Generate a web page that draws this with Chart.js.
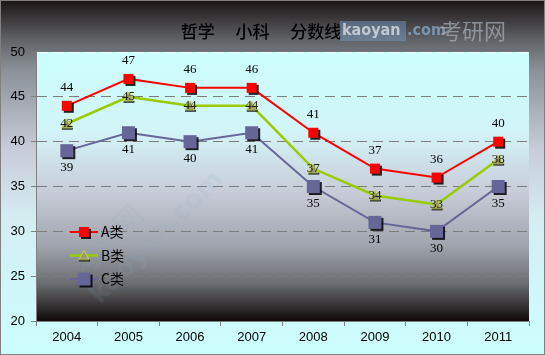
<!DOCTYPE html>
<html>
<head>
<meta charset="utf-8">
<script src="https://cdn.jsdelivr.net/npm/chart.js@4/dist/chart.umd.min.js"></script>
<style>
  html, body { margin: 0; padding: 0; background: #ffffff; }
  #wrap { position: relative; width: 545px; height: 355px; }
</style>
</head>
<body>
<div id="wrap"><canvas id="chart" width="545" height="355"></canvas></div>
<script>
// chart values
const years = ['2004', '2005', '2006', '2007', '2008', '2009', '2010', '2011'];
const seriesA = [44, 47, 46, 46, 41, 37, 36, 40];
const seriesB = [42, 45, 44, 44, 37, 34, 33, 38];
const seriesC = [39, 41, 40, 41, 35, 31, 30, 35];
const seriesNames = ['A类', 'B类', 'C类'];
const titleText = '哲学　 小科　 分数线';

// marker images with a dark drop shadow baked in
function squareMarker(side, fill) {
    const pad = 3;
    const size = side + pad * 2;
    const c = document.createElement('canvas');
    c.width = size; c.height = size;
    const g = c.getContext('2d');
    g.fillStyle = 'rgba(0,0,0,0.85)';
    g.fillRect(pad + 2, pad + 2, side, side);
    g.fillStyle = fill;
    g.fillRect(pad, pad, side, side);
    return c;
}

function triangleMarker() {
    const c = document.createElement('canvas');
    c.width = 14; c.height = 14;
    const g = c.getContext('2d');
    g.fillStyle = 'rgba(0,0,0,0.8)';
    g.fillRect(2, 11, 11, 2);
    g.beginPath();
    g.moveTo(7, 2); g.lineTo(12, 11); g.lineTo(2, 11); g.closePath();
    g.fillStyle = '#999966';
    g.fill();
    g.strokeStyle = '#c8d850';
    g.lineWidth = 1;
    g.stroke();
    return c;
}

const markerA = squareMarker(10, '#ff0000');
const markerB = triangleMarker();
const markerC = squareMarker(13, '#666699');

const backgroundPlugin = {
    id: 'backgrounds',
    beforeDraw(chart) {
        const { ctx, chartArea, width, height } = chart;
        ctx.save();
        const outer = ctx.createLinearGradient(0, 0, 0, height);
        outer.addColorStop(0, '#1c1414');
        outer.addColorStop(0.12, '#64686c');
        outer.addColorStop(0.2, '#8c9298');
        outer.addColorStop(0.42, '#c8ccd8');
        outer.addColorStop(0.62, '#d4eef2');
        outer.addColorStop(1, '#ccffff');
        ctx.fillStyle = outer;
        ctx.fillRect(0, 0, width, height);

        const inner = ctx.createLinearGradient(0, chartArea.top, 0, chartArea.bottom);
        inner.addColorStop(0, '#ccffff');
        inner.addColorStop(0.3, '#d2f4f8');
        inner.addColorStop(0.52, '#c8ccd8');
        inner.addColorStop(0.72, '#a0a4ac');
        inner.addColorStop(0.86, '#6a6e72');
        inner.addColorStop(1, '#100808');
        ctx.fillStyle = inner;
        ctx.fillRect(chartArea.left, chartArea.top, chartArea.right - chartArea.left, chartArea.bottom - chartArea.top);

        // diagonal watermark in the plot
        ctx.translate(95, 300);
        ctx.rotate(-Math.PI / 4);
        ctx.textBaseline = 'middle';
        ctx.font = 'bold 26px "DejaVu Sans"';
        ctx.fillStyle = 'rgba(140,170,200,0.12)';
        ctx.fillText('kaoyan.com', 0, 0);
        ctx.font = '28px "Noto Sans CJK SC"';
        ctx.fillText('考研网', 10, -34);
        ctx.restore();
    },
    afterDraw(chart) {
        const { ctx, width, height } = chart;
        ctx.save();
        ctx.strokeStyle = '#808080';
        ctx.lineWidth = 1;
        ctx.strokeRect(0.5, 0.5, width - 1, height - 1);
        ctx.restore();
    }
};

const titlePlugin = {
    id: 'cnTitle',
    afterDraw(chart) {
        const ctx = chart.ctx;
        ctx.save();
        ctx.font = '500 17px "Noto Sans CJK SC"';
        ctx.fillStyle = '#000000';
        ctx.textAlign = 'center';
        ctx.textBaseline = 'middle';
        ctx.fillText(titleText, 261, 32);

        // site watermark laid over the title
        ctx.textAlign = 'left';
        ctx.fillStyle = 'rgba(120,160,205,0.45)';
        ctx.fillRect(340, 21, 66, 20);
        ctx.font = 'bold 16px "DejaVu Sans Condensed"';
        ctx.fillStyle = 'rgba(255,255,255,0.6)';
        ctx.fillText('kaoyan', 342, 31);
        ctx.fillStyle = 'rgba(140,175,210,0.7)';
        ctx.fillText('.com', 407, 31);
        ctx.font = '22px "Noto Sans CJK SC"';
        ctx.fillStyle = 'rgba(170,175,185,0.7)';
        ctx.fillText('考研网', 440, 31);
        ctx.restore();
    }
};

const labelPlugin = {
    id: 'pointLabels',
    afterDatasetsDraw(chart) {
        const ctx = chart.ctx;
        ctx.save();
        ctx.font = '13px "Liberation Serif"';
        ctx.textAlign = 'center';
        ctx.textBaseline = 'middle';
        chart.data.datasets.forEach((ds, i) => {
            const meta = chart.getDatasetMeta(i);
            meta.data.forEach((pt, j) => {
                let dy = 0;
                if (ds.labelPos === 'above') dy = -18;
                if (ds.labelPos === 'below') dy = 17;
                ctx.fillStyle = ds.labelPos === 'center' ? '#222211' : '#000000';
                ctx.fillText(String(ds.data[j]), pt.x, pt.y + dy);
            });
        });
        ctx.restore();
    }
};

const legendPlugin = {
    id: 'innerLegend',
    afterDatasetsDraw(chart) {
        const ctx = chart.ctx;
        const x0 = 70, x1 = 98, top = 232, step = 23.5;
        ctx.save();
        ctx.font = '14px "Noto Sans CJK SC"';
        ctx.textBaseline = 'middle';
        chart.data.datasets.forEach((ds, i) => {
            const y = top + i * step;
            ctx.strokeStyle = ds.borderColor;
            ctx.lineWidth = ds.borderWidth;
            ctx.beginPath();
            ctx.moveTo(x0, y);
            ctx.lineTo(x1, y);
            ctx.stroke();
            const m = ds.pointStyle;
            ctx.drawImage(m, (x0 + x1) / 2 - m.width / 2, y - m.height / 2);
            ctx.fillStyle = '#000000';
            ctx.fillText(ds.label, x1 + 3, y);
        });
        ctx.restore();
    }
};

new Chart(document.getElementById('chart'), {
    type: 'line',
    data: {
        labels: years,
        datasets: [
            {
                label: seriesNames[0],
                data: seriesA,
                borderColor: '#ff0000',
                borderWidth: 2,
                pointStyle: markerA,
                labelPos: 'above'
            },
            {
                label: seriesNames[1],
                data: seriesB,
                borderColor: '#99cc00',
                borderWidth: 2.5,
                pointStyle: markerB,
                labelPos: 'center'
            },
            {
                label: seriesNames[2],
                data: seriesC,
                borderColor: '#666699',
                borderWidth: 2,
                pointStyle: markerC,
                labelPos: 'below'
            }
        ]
    },
    options: {
        responsive: false,
        animation: false,
        layout: { padding: { top: 52, right: 16, left: 0, bottom: 0 } },
        elements: { line: { tension: 0, fill: false } },
        plugins: {
            legend: { display: false },
            tooltip: { enabled: false },
            title: { display: false }
        },
        scales: {
            x: {
                offset: true,
                grid: {
                    offset: true,
                    drawOnChartArea: false,
                    color: '#808080',
                    tickLength: 5
                },
                border: { color: '#808080' },
                ticks: {
                    color: '#000000',
                    font: { family: 'Liberation Sans', size: 13 },
                    padding: 4,
                    maxRotation: 0
                },
                afterFit(scale) { scale.height = 34; }
            },
            y: {
                min: 20,
                max: 50,
                ticks: {
                    stepSize: 5,
                    color: '#000000',
                    font: { family: 'Liberation Sans', size: 13 },
                    padding: 6
                },
                grid: {
                    color: ctx => {
                        const v = ctx.tick ? ctx.tick.value : 0;
                        if (v === 50) return 'rgba(255,255,255,0.9)';
                        if (v === 20) return 'rgba(0,0,0,0)';
                        return '#7c7c7c';
                    },
                    tickColor: '#808080',
                    tickLength: 5,
                    tickBorderDash: []
                },
                border: { color: '#808080', dash: [10, 6] },
                afterFit(scale) { scale.width = 36; }
            }
        }
    },
    plugins: [backgroundPlugin, titlePlugin, labelPlugin, legendPlugin]
});
</script>
</body>
</html>
